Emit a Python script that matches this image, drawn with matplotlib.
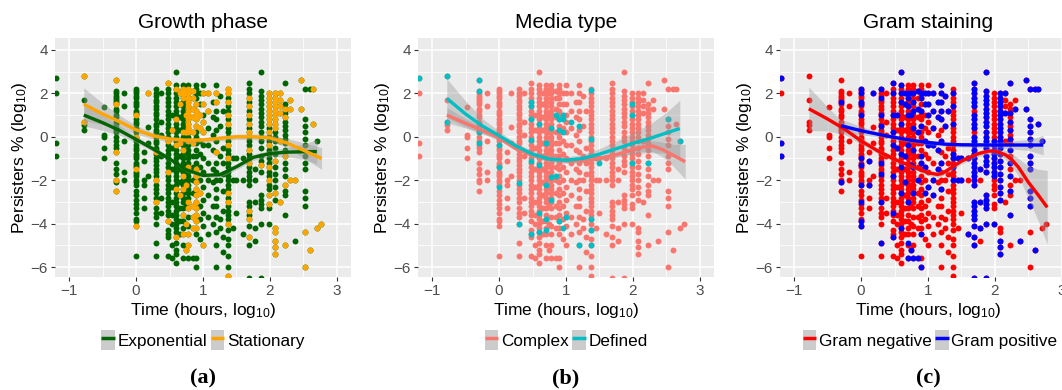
import numpy as np
import matplotlib
matplotlib.use("Agg")
import matplotlib.pyplot as plt
from matplotlib.patches import Patch
from matplotlib.lines import Line2D
from matplotlib.legend_handler import HandlerTuple

plt.rcParams['font.family'] = ['Liberation Sans', 'DejaVu Sans']
plt.rcParams['mathtext.default'] = 'regular'

# ---------------- data: time (log10 h) columns and persister values (log10 %) ----------------
BASE_X = [-1.2, -0.78, -0.48, -0.3, -0.18, 0.0, 0.12, 0.18, 0.3, 0.38, 0.48, 0.54, 0.6, 0.65,
          0.7, 0.75, 0.78, 0.85, 0.9, 0.95, 1.0, 1.08, 1.15, 1.2, 1.26, 1.3, 1.38, 1.45, 1.5,
          1.6, 1.68, 1.78, 1.86, 1.98, 2.08, 2.15, 2.22, 2.3, 2.38, 2.46, 2.53, 2.6, 2.65, 2.7, 2.76]
BASE_Y = [
    "2.7 2.0 -0.3 -0.9",
    "2.8 1.7 0.7 0.55 0.3",
    "1.35 0.1 0.0 -0.5 -1.0",
    "2.6 2.1 2.0 1.9 1.8 1.7 1.6 1.5 1.3 1.2 1.0 0.9 0.7 0.6 0.4 0.3 0.2 0.0 -0.2 -0.4 -0.5 -0.7 -1.2 -1.5 -1.7 -2.0 -2.1 -2.5",
    "2.0 1.4 -0.2 -1.6 -2.0",
    "2.2 2.1 2.0 1.9 1.8 1.6 1.5 1.4 1.2 1.1 1.0 0.8 0.7 0.6 0.4 0.3 0.2 0.0 -0.1 -0.2 -0.4 -0.5 -0.6 -0.8 -0.9 -1.0 -1.2 -1.3 -1.4 -1.6 -1.7 -1.8 -2.0 -2.1 -2.2 -2.5 -2.7 -2.9 -3.1 -3.3 -3.5 -3.8 -3.9 -4.1 -5.5",
    "-0.7 -1.1 -2.0 -2.2 -2.8 -3.3",
    "2.0 0.45 -0.3 -1.8",
    "2.2 2.0 1.9 1.7 1.6 1.4 1.3 1.1 1.0 0.8 0.6 0.5 0.3 0.2 0.0 -0.2 -0.3 -0.5 -0.6 -0.8 -1.0 -1.1 -1.3 -1.5 -1.6 -1.8 -2.0 -2.2 -2.4 -2.6 -2.8 -3.0 -3.3 -3.5 -3.7 -4.0 -4.9 -5.5",
    "2.0 0.7 0.1 -0.9 -2.8 -3.5",
    "2.5 2.2 2.0 1.8 1.6 1.4 1.2 1.0 0.8 0.6 0.4 0.2 0.0 -0.2 -0.4 -0.6 -0.8 -1.0 -1.2 -1.4 -1.6 -1.8 -2.0 -2.2 -2.4 -2.6 -2.8 -3.0 -3.2 -3.4 -3.6 -3.9 -4.3 -4.5 -4.6 -5.5",
    "1.0 0.3 -0.5 -1.5 -2.3 -3.0 -3.6 -4.0 -5.0 -5.6",
    "3.0 2.4 2.2 2.0 1.8 1.6 1.4 1.2 1.0 0.8 0.6 0.4 0.2 0.0 -0.2 -0.4 -0.6 -0.8 -1.0 -1.2 -1.4 -1.6 -1.8 -2.0 -2.2 -2.4 -2.6 -2.8 -3.0 -3.2 -3.4 -3.6 -3.8 -4.0 -4.2 -4.4 -4.6 -4.9 -5.2 -5.4 -5.8",
    "2.0 1.5 0.9 0.3 -0.3 -0.9 -1.5 -2.1 -2.7 -3.3 -3.9 -4.5",
    "2.4 2.2 2.0 1.8 1.6 1.4 1.2 1.0 0.8 0.6 0.4 0.2 0.0 -0.2 -0.4 -0.6 -0.8 -1.0 -1.2 -1.4 -1.6 -1.8 -2.0 -2.2 -2.4 -2.6 -2.8 -3.0 -3.3 -3.6 -3.9 -4.2 -4.5 -5.0 -5.6",
    "2.0 1.0 0.2 -0.6 -1.3 -2.2 -3.2 -4.0 -5.2",
    "2.4 2.2 2.0 1.8 1.6 1.4 1.2 1.0 0.8 0.6 0.4 0.2 0.0 -0.2 -0.4 -0.6 -0.8 -1.0 -1.2 -1.4 -1.6 -1.8 -2.0 -2.2 -2.4 -2.6 -2.8 -3.0 -3.3 -3.7 -4.1 -4.5 -5.0 -5.6",
    "2.1 1.8 1.3 0.9 0.2 -0.3 -0.9 -1.4 -2.0 -2.6 -3.2 -3.7 -4.2 -5.6",
    "2.4 2.2 2.0 1.8 1.5 1.2 1.0 0.8 0.5 0.2 0.0 -0.3 -0.6 -0.9 -1.2 -1.5 -1.8 -2.1 -2.4 -2.7 -3.0 -3.3 -3.6 -3.9 -4.2 -4.5 -5.6 -6.0",
    "2.0 1.5 1.0 0.4 -0.2 -0.8 -1.4 -2.0 -2.6 -3.2 -3.8 -4.7",
    "2.4 2.0 1.5 1.0 0.7 0.2 -0.4 -1.0 -1.6 -2.3 -2.9 -3.5 -4.1 -5.0",
    "2.0 1.2 0.4 -0.4 -1.2 -2.0 -2.7 -3.7 -4.5",
    "1.6 0.9 0.1 -0.6 -1.5 -2.1 -3.2 -4.0",
    "2.4 2.0 1.6 1.2 0.8 0.3 -0.2 -0.7 -1.2 -1.6 -2.0 -2.4 -2.8 -3.2 -3.7 -4.4 -5.0 -6.0",
    "1.9 0.5 -0.9 -2.0 -3.8 -4.2",
    "1.2 -0.5 -1.2 -1.7 -2.5 -3.4 -4.6 -5.3",
    "2.2 2.0 1.8 1.6 1.4 1.2 1.0 0.8 0.6 0.4 0.2 0.0 -0.2 -0.4 -0.6 -0.8 -1.0 -1.2 -1.4 -1.6 -1.8 -2.0 -2.2 -2.4 -2.6 -2.8 -3.0 -3.2 -3.4 -3.6 -3.8 -4.0 -4.3 -4.7 -5.0 -5.5 -6.0 -6.4",
    "-1.0 -2.0 -4.2",
    "-1.0 -2.0 -3.5",
    "-1.0 -2.0 -4.5",
    "2.5 2.2 2.0 1.8 1.6 1.4 1.2 1.0 0.8 0.6 0.4 0.2 0.0 -0.2 -0.4 -0.6 -0.8 -1.0 -1.2 -1.4 -1.6 -1.8 -2.0 -2.2 -3.0 -3.2 -3.4 -3.6 -3.8 -4.1 -4.6 -5.0 -6.5",
    "-1.5 -2.0 -3.0 -4.2 -4.8",
    "3.0 2.1 1.9 1.7 1.5 1.3 1.1 0.9 0.7 0.5 0.2 0.0 -0.2 -0.5 -0.9 -1.1 -1.3 -1.6 -2.7 -2.9 -3.1 -3.3 -4.0 -6.5",
    "2.0 1.8 1.6 1.4 1.2 1.0 0.8 0.6 0.4 0.2 0.0 -0.2 -0.4 -0.6 -0.8 -1.0 -1.2 -1.4 -1.6 -1.8 -2.0 -2.2 -2.4 -2.7 -3.1 -3.3 -4.0",
    "2.0 1.8 1.6 1.4 1.2 1.0 0.8 0.6 0.4 0.2 0.0 -0.2 -0.5 -0.8 -1.1 -1.4 -1.7 -2.0 -2.3 -2.6 -2.9 -4.2 -4.4 -4.8 -5.1 -5.4",
    "2.0 1.7 1.4 1.1 -0.2 -3.0",
    "2.5 1.5 1.3 1.1 0.9 0.7 0.5 0.3 0.1 -0.1 -0.3 -0.6 -0.9 -1.2 -1.5 -1.8 -2.2 -2.5 -2.7 -3.6 -5.0",
    "1.7 1.3 -2.0",
    "-2.0 -4.8",
    "2.6 1.3",
    "2.2 0.8 0.5 0.2 -0.1 -0.4 -0.9 -1.2 -1.5 -2.5 -2.8 -3.2 -4.4 -6.0",
    "2.2 -5.2",
    "2.2 0.6",
    "-0.2 -4.2",
    "-4.0",
]

# stationary-phase points (panel a, drawn over the exponential ones)
STAT_X = [-0.78, -0.3, 0.0, 0.18, 0.3, 0.48, 0.54, 0.6, 0.65, 0.7, 0.75, 0.78, 0.85, 0.9, 0.95,
          1.0, 1.08, 1.2, 1.38, 1.68, 1.86, 1.98, 2.08, 2.15, 2.22, 2.3, 2.38, 2.46, 2.53, 2.6,
          2.65, 2.7, 2.76]
STAT_Y = [
    "2.8 0.7", "2.6 1.5 -0.7 -2.0 -2.5", "1.0 0.0 -1.5 -4.1", "2.0", "-0.7 -2.0 -3.0",
    "2.5 -0.2 -1.6 -3.9", "0.3", "2.2 0.8 -0.4 -2.4 -4.6", "2.0 1.5 -0.3 -2.7",
    "2.2 2.0 1.8 0.2 -0.6 -1.8 -2.4 -3.6 -4.5", "2.0 1.0 0.2 -2.2 -4.0 -5.2",
    "2.2 2.0 1.8 1.6 1.4 1.2 1.0 0.8 0.6 0.4 0.2 -0.2 -1.4 -3.0 -3.3 -4.5 -5.0",
    "2.1 1.8 1.3 0.9 0.2 -0.3 -3.2 -3.7 -4.2",
    "1.5 1.2 1.0 0.8 0.5 -1.5 -1.8 -2.1 -2.4 -2.7 -3.0 -3.3 -3.6 -3.9 -4.2",
    "1.0 0.4 -2.6", "2.0 1.5 0.7 0.2 -5.0", "2.0 1.2", "2.0 1.6 -0.7",
    "2.2 2.0 1.6 1.0 0.6 -0.4 -1.0 -2.6 -3.0 -4.0 -6.4",
    "1.8 1.4 1.0 0.6 0.2 -0.6 -1.2 -3.4 -3.8 -4.6", "-1.3",
    "2.0 1.8 1.6 1.4 1.2 1.0 0.8 0.6 0.2 -0.4 -1.4 -2.0 -2.7 -3.1",
    "2.0 1.8 1.6 1.4 1.2 1.0 0.8 0.6 0.4 -1.1 -2.6 -4.2 -4.4 -4.8 -5.1 -5.4",
    "2.0 1.7 1.4 1.1 -0.2 -3.0", "1.3 0.9 -0.9 -2.2 -5.0", "1.7 1.3 -2.0", "-2.0", "2.6 1.3",
    "-4.4 -6.0", "-5.2", "2.2 0.6", "-4.2", "-4.0",
]

# defined-medium points (panel b, drawn over the complex ones)
DEF_X = [-1.2, -0.78, -0.3, 0.0, 0.3, 0.48, 0.6, 0.7, 0.78, 0.85, 0.9, 0.95, 1.0, 1.08, 1.2,
         1.38, 1.5, 1.98, 2.22, 2.53, 2.7]
DEF_Y = [
    "2.7", "2.8 0.7", "2.6 2.1 0.2 -0.3", "-0.4 -1.4 -2.3", "-2.15 -4.0",
    "1.6 1.4 0.8 -0.15 -1.1 -4.5", "0.6 -1.3 -3.5 -4.4", "-0.3 -2.2 -3.8 -4.3",
    "0.4 -1.85 -2.9", "1.0 -1.8", "0.8 0.3 -3.9", "1.0 0.8 0.2 -4.2", "-3.7", "0.7",
    "0.5 -5.0", "2.15 -0.1 -3.8 -4.3 -5.0", "-1.2", "1.5 1.0 -1.2", "-1.2", "0.8", "-0.2",
]

# Gram-positive points (panel c, drawn over the Gram-negative ones)
POS_X = [-1.2, -0.3, 0.0, 0.12, 0.18, 0.3, 0.48, 0.54, 0.6, 0.65, 0.7, 0.75, 0.78, 0.85, 0.9,
         0.95, 1.0, 1.08, 1.15, 1.2, 1.26, 1.3, 1.38, 1.45, 1.5, 1.6, 1.68, 1.78, 1.86, 1.98,
         2.08, 2.15, 2.22, 2.3, 2.38, 2.46, 2.53, 2.6, 2.65, 2.7]
POS_Y = [
    "2.7 -0.3 -0.9", "1.6 -2.1", "2.2 2.0 1.6 1.5 1.0 -1.0 -1.3 -2.2 -3.0 -3.9 -4.1", "-1.1 -2.2",
    "2.0", "2.2 1.8 1.0 0.5 -1.2 -1.7 -3.0 -4.9", "2.5 2.0 1.0 0.2 -0.4 -1.8 -3.5 -4.6",
    "1.0 -0.5", "3.0 2.4 2.0 1.6 0.6 -0.8 -1.4 -2.6 -4.2", "2.0 1.5 -0.9 -2.1",
    "2.0 1.8 1.4 1.0 -0.4 -3.0 -4.9 -5.6", "2.0 1.0 -1.3 -5.2",
    "2.0 1.6 1.2 0.4 -0.6 -1.4 -2.6 -5.6", "2.1 1.3 0.2 -2.0 -5.6",
    "2.0 1.8 1.2 0.5 -0.9 -1.2 -4.5 -6.0", "2.0 1.5 -0.2 -1.4 -2.6", "2.0 1.5 1.0 -0.4 -2.3",
    "2.0 1.2 0.4 -0.4 -2.0 -2.7", "1.6 0.9 -0.6 -1.5", "2.4 2.0 1.6 1.2 0.8 -0.2 -1.2 -2.4",
    "1.9 0.5", "1.2", "2.0 1.4 0.6 -0.8 -1.0 -1.4 -2.0", "-1.0 -2.0", "-1.0 -2.0", "-1.0 -4.5",
    "2.5 2.2 2.0 1.8 1.6 1.4 1.0 0.8 0.6 0.4 0.0 -0.2 -0.4 -0.6 -0.8 -1.0 -1.2 -1.4 -1.6 -1.8 -2.0 -2.2 -3.0 -3.2 -3.4 -3.6 -3.8 -4.1 -4.6 -5.0 -6.5",
    "-1.5 -3.0 -4.2",
    "3.0 2.1 1.9 1.7 1.5 1.3 1.1 0.9 0.7 0.5 0.2 0.0 -0.2 -0.5 -0.9 -1.1 -1.3 -1.6 -2.7 -2.9 -3.1 -3.3 -4.0 -6.5",
    "-0.2 -0.4 -0.6 -0.8 -1.0 -1.2 -1.4 -1.6 -1.8 -4.0",
    "2.0 1.8 1.6 1.4 1.2 1.0 0.8 0.6 0.4 0.2 0.0 -0.2 -0.5 -0.8 -1.1 -1.4 -1.7 -2.0 -2.3 -2.6 -2.9 -4.8 -5.1 -5.4",
    "2.0 1.1", "2.5 1.1 0.7 0.3 -0.1 -0.6 -1.2 -1.8 -2.5 -3.6", "1.3", "-4.8", "2.6 1.3",
    "2.2 0.8 0.5 0.2 -0.1 -0.4 -0.9 -1.2 -1.5 -2.5 -2.8 -3.2", "2.2 -5.2", "2.2 0.6", "-0.2",
]

# smoothed trends: x, fitted y, half-width of confidence band
EXP_SX = [-0.78, -0.5, -0.25, 0.0, 0.25, 0.5, 0.75, 1.0, 1.25, 1.5, 1.75, 2.0, 2.25, 2.5, 2.7]
EXP_SY = [1.0, 0.65, 0.3, -0.12, -0.55, -1.02, -1.52, -1.78, -1.75, -1.38, -0.95, -0.77, -0.71, -0.69, -0.68]
EXP_SE = [0.5, 0.35, 0.22, 0.15, 0.12, 0.1, 0.1, 0.1, 0.12, 0.13, 0.14, 0.15, 0.2, 0.35, 0.55]
STA_SX = [-0.78, -0.5, -0.25, 0.0, 0.25, 0.5, 0.75, 1.0, 1.25, 1.5, 1.75, 2.0, 2.25, 2.5, 2.77]
STA_SY = [1.5, 1.05, 0.7, 0.32, 0.05, -0.1, -0.16, -0.15, -0.07, 0.0, 0.0, -0.05, -0.28, -0.62, -1.0]
STA_SE = [0.75, 0.5, 0.3, 0.2, 0.15, 0.12, 0.12, 0.12, 0.12, 0.12, 0.13, 0.15, 0.2, 0.35, 0.5]

DEF_SX = [-0.78, -0.5, -0.25, 0.0, 0.25, 0.5, 0.75, 1.0, 1.25, 1.5, 1.75, 2.0, 2.25, 2.5, 2.7]
DEF_SY = [1.77, 1.05, 0.5, 0.05, -0.42, -0.8, -1.03, -1.08, -1.0, -0.8, -0.55, -0.3, -0.08, 0.18, 0.38]
DEF_SE = [0.9, 0.6, 0.35, 0.2, 0.15, 0.15, 0.15, 0.15, 0.18, 0.25, 0.35, 0.5, 0.65, 0.95, 1.3]
CPX_SX = [-0.78, -0.5, -0.25, 0.0, 0.25, 0.5, 0.75, 1.0, 1.25, 1.5, 1.75, 2.0, 2.15, 2.3, 2.45, 2.6, 2.78]
CPX_SY = [1.0, 0.62, 0.3, -0.05, -0.55, -0.85, -1.04, -1.11, -1.1, -1.0, -0.83, -0.6, -0.47, -0.43, -0.6, -0.85, -1.15]
CPX_SE = [0.35, 0.22, 0.15, 0.1, 0.08, 0.07, 0.07, 0.07, 0.08, 0.1, 0.12, 0.15, 0.2, 0.25, 0.35, 0.5, 0.8]

NEG_SX = [-0.78, -0.5, -0.25, 0.0, 0.25, 0.5, 0.75, 1.0, 1.15, 1.25, 1.5, 1.75, 1.9, 2.0, 2.15,
          2.25, 2.35, 2.5, 2.65, 2.78]
NEG_SY = [1.29, 0.82, 0.36, -0.19, -0.65, -1.04, -1.35, -1.66, -1.74, -1.62, -1.12, -0.78, -0.66,
          -0.66, -0.82, -1.05, -1.4, -2.1, -2.7, -3.25]
NEG_SE = [1.0, 0.55, 0.25, 0.15, 0.12, 0.1, 0.1, 0.12, 0.13, 0.13, 0.13, 0.13, 0.14, 0.15, 0.2,
          0.28, 0.4, 0.75, 1.2, 1.7]
GPO_SX = [-0.3, 0.0, 0.25, 0.5, 0.75, 1.0, 1.25, 1.5, 2.0, 2.5, 2.72]
GPO_SY = [0.51, 0.28, 0.12, -0.03, -0.16, -0.26, -0.34, -0.37, -0.38, -0.38, -0.38]
GPO_SE = [0.3, 0.2, 0.12, 0.1, 0.1, 0.1, 0.1, 0.1, 0.12, 0.25, 0.45]

TITLES = ["Growth phase", "Media type", "Gram staining"]
GROUP_LABELS = [["Exponential", "Stationary"], ["Complex", "Defined"], ["Gram negative", "Gram positive"]]
GROUP_COLORS = [["#006400", "#FFA500"], ["#F8766D", "#00BFC4"], ["#FF0000", "#0000FF"]]
PANEL_TAGS = ["(a)", "(b)", "(c)"]


def expand(xs, ystrs):
    px, py = [], []
    for x, s in zip(xs, ystrs):
        for v in s.split():
            px.append(x)
            py.append(float(v))
    return np.array(px), np.array(py)


base_x, base_y = expand(BASE_X, BASE_Y)
overlays = [expand(STAT_X, STAT_Y), expand(DEF_X, DEF_Y), expand(POS_X, POS_Y)]
smooths = [
    [(EXP_SX, EXP_SY, EXP_SE), (STA_SX, STA_SY, STA_SE)],
    [(CPX_SX, CPX_SY, CPX_SE), (DEF_SX, DEF_SY, DEF_SE)],
    [(NEG_SX, NEG_SY, NEG_SE), (GPO_SX, GPO_SY, GPO_SE)],
]

W, H = 1062, 390
fig = plt.figure(figsize=(W / 100, H / 100), dpi=100)
fig.patch.set_facecolor("white")

lefts = [55, 418, 780]
top_px, bot_px = 38, 277
ax_w = 296
legend_shift = [0, 0, 2]

for i in range(3):
    ax = fig.add_axes([lefts[i] / W, 1 - bot_px / H, ax_w / W, (bot_px - top_px) / H])
    ax.set_facecolor("#EBEBEB")
    for sp in ax.spines.values():
        sp.set_visible(False)
    ax.set_xlim(-1.21, 3.21)
    ax.set_ylim(-6.46, 4.55)
    ax.set_xticks([-1, 0, 1, 2, 3])
    ax.set_yticks([-6, -4, -2, 0, 2, 4])
    ax.set_xticks([-0.5, 0.5, 1.5, 2.5], minor=True)
    ax.set_yticks([-5, -3, -1, 1, 3], minor=True)
    ax.grid(which="major", color="white", lw=1.1)
    ax.grid(which="minor", color="white", lw=0.55)
    ax.set_axisbelow(True)
    ax.tick_params(which="major", direction="out", length=3, width=0.8, color="#333333",
                   labelcolor="#4D4D4D", labelsize=11, pad=2)
    ax.tick_params(which="minor", length=0)

    c1, c2 = GROUP_COLORS[i]
    ax.scatter(base_x, base_y, s=18, color=c1, linewidths=0, zorder=3)
    ox, oy = overlays[i]
    ax.scatter(ox, oy, s=18, color=c2, linewidths=0, zorder=3)

    for (sx, sy, se), col in zip(smooths[i], (c1, c2)):
        sx = np.array(sx); sy = np.array(sy); se = np.array(se)
        ax.fill_between(sx, sy - se, sy + se, color="#999999", alpha=0.4, lw=0, zorder=4)
        ax.plot(sx, sy, color=col, lw=2.4, zorder=5, solid_capstyle="butt",
                solid_joinstyle="round")

    ax.set_title(TITLES[i], fontsize=15, pad=7)
    ax.set_xlabel("Time (hours, log$_{10}$)", fontsize=12.5, labelpad=2)
    ax.set_ylabel("Persisters % (log$_{10}$)", fontsize=12.5, labelpad=1)

    handles = [(Patch(facecolor="#CCCCCC", edgecolor="none"),
                Line2D([], [], color=c, lw=2.5, solid_capstyle="butt"))
               for c in (c1, c2)]
    ax.legend(handles, GROUP_LABELS[i], handler_map={tuple: HandlerTuple(ndivide=1, pad=0)},
              loc="center",
              bbox_to_anchor=(0.5 + legend_shift[i] / ax_w, -(340 - bot_px) / (bot_px - top_px)),
              ncol=2, frameon=False, fontsize=12.3, handlelength=0.8, handleheight=1.5,
              handletextpad=0.15, columnspacing=0.2, borderaxespad=0, borderpad=0)

    fig.text((lefts[i] + ax_w / 2) / W, 1 - 378 / H, PANEL_TAGS[i], ha="center", va="center",
             fontsize=16, fontweight="bold", family=["Liberation Serif", "DejaVu Serif"])

fig.savefig("out.png", dpi=100)
